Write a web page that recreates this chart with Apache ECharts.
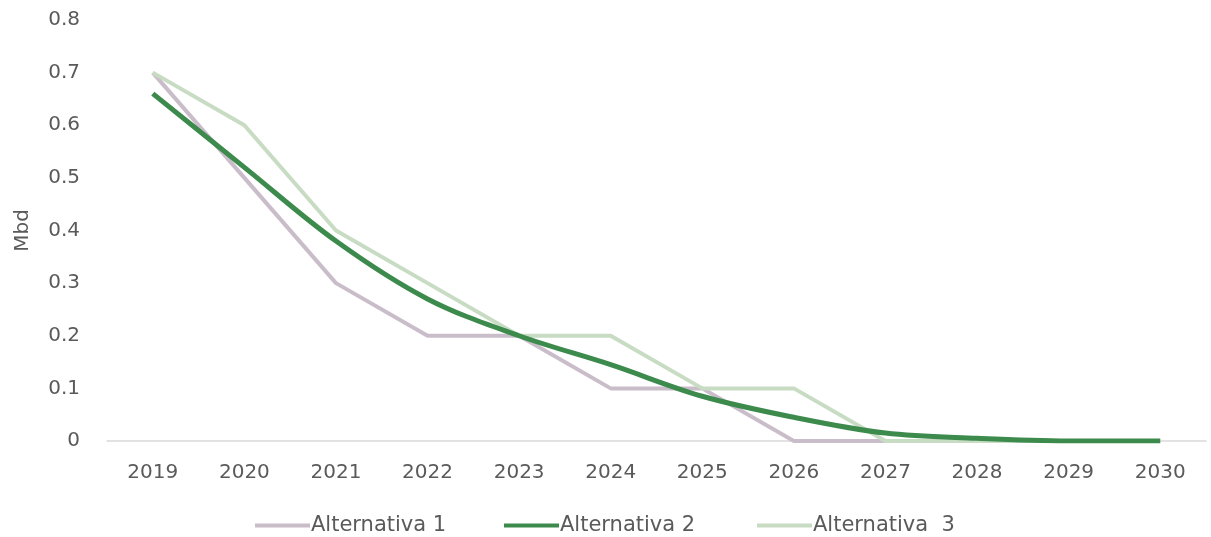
<!DOCTYPE html>
<html>
<head>
<meta charset="utf-8">
<script src="https://cdn.jsdelivr.net/npm/echarts@6/dist/echarts.min.js"></script>
<style>
  html, body { margin: 0; padding: 0; background: #ffffff; }
  #chart { width: 1211px; height: 537px; }
</style>
</head>
<body>
<div id="chart"></div>
<script>
// Production outlook by alternative (Mbd)
const years = ['2019', '2020', '2021', '2022', '2023', '2024', '2025', '2026', '2027', '2028', '2029', '2030'];
const alternativa1 = [0.70, 0.50, 0.30, 0.20, 0.20, 0.10, 0.10, 0.00, 0.00, 0.00, 0.00, 0.00];
const alternativa2 = [0.66, 0.52, 0.38, 0.27, 0.20, 0.145, 0.085, 0.045, 0.015, 0.005, 0.00, 0.00];
const alternativa3 = [0.70, 0.60, 0.40, 0.30, 0.20, 0.20, 0.10, 0.10, 0.00, 0.00, 0.00, 0.00];
const seriesNames = ['Alternativa 1', 'Alternativa 2', 'Alternativa  3'];

const fontFamily = '"DejaVu Sans", "Noto Sans", sans-serif';
const textColor = '#5a5a5a';

// one legend block per series so each entry sits at its own spot on the bottom row
const legendLefts = [250, 499, 752];
const legends = seriesNames.map((name, i) => ({
  left: legendLefts[i],
  top: 510,
  icon: 'rect',
  itemWidth: 55,
  itemHeight: 4,
  textStyle: { fontFamily, fontSize: 21, color: textColor, padding: [0, 0, 0, -4] },
  data: [name]
}));

const chart = echarts.init(document.getElementById('chart'));
chart.setOption({
  backgroundColor: '#ffffff',
  animation: false,
  grid: { left: 107, right: 5, top: 20, bottom: 96 },
  legend: legends,
  xAxis: {
    type: 'category',
    data: years,
    boundaryGap: true,
    axisLine: { lineStyle: { color: '#d9d9d9', width: 1.5 } },
    axisTick: { show: false },
    axisLabel: { fontFamily, fontSize: 20, color: textColor, margin: 22 }
  },
  yAxis: {
    type: 'value',
    min: 0,
    max: 0.8,
    interval: 0.1,
    name: 'Mbd',
    nameLocation: 'middle',
    nameGap: 74,
    nameTextStyle: { fontFamily, fontSize: 20, color: textColor },
    axisLine: { show: false },
    axisTick: { show: false },
    splitLine: { show: false },
    axisLabel: {
      fontFamily, fontSize: 20, color: textColor, margin: 27,
      formatter: v => (v === 0 ? '0' : v.toFixed(1))
    }
  },
  series: [
    {
      name: seriesNames[0], type: 'line', data: alternativa1,
      symbol: 'none', z: 2,
      lineStyle: { color: '#c9bdca', width: 4 },
      itemStyle: { color: '#c9bdca' }
    },
    {
      name: seriesNames[2], type: 'line', data: alternativa3,
      symbol: 'none', z: 3,
      lineStyle: { color: '#c8dcc4', width: 4 },
      itemStyle: { color: '#c8dcc4' }
    },
    {
      name: seriesNames[1], type: 'line', data: alternativa2,
      symbol: 'none', smooth: 0.35, z: 4,
      lineStyle: { color: '#3d8a4d', width: 5 },
      itemStyle: { color: '#3d8a4d' }
    }
  ]
});
</script>
</body>
</html>
